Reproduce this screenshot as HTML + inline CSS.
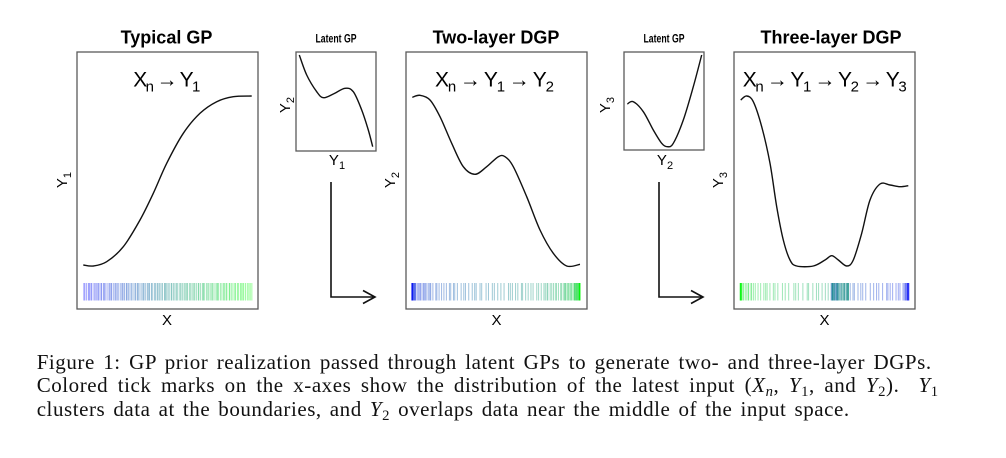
<!DOCTYPE html>
<html><head><meta charset="utf-8">
<style>
html,body{margin:0;padding:0;background:#fff;}
#wrap{position:relative;width:1006px;height:458px;overflow:hidden;background:#fff;}
svg{position:absolute;left:0;top:0;}
.cap{position:absolute;left:36.7px;font-family:"Liberation Serif",serif;font-size:21px;letter-spacing:0.55px;line-height:20px;white-space:nowrap;text-align:justify;text-align-last:justify;color:#111;}
.sb{font-size:70%;position:relative;top:4px;}
</style></head>
<body><div id="wrap">
<svg id="fig" width="1006" height="340" viewBox="0 0 1006 340" xmlns="http://www.w3.org/2000/svg" font-family="Liberation Sans, DejaVu Sans, sans-serif">
  <!-- titles -->
  <text x="166.5" y="43.5" font-size="18" font-weight="bold" text-anchor="middle">Typical GP</text>
  <text x="336" y="42.5" font-size="11.5" font-weight="bold" text-anchor="middle" textLength="41" lengthAdjust="spacingAndGlyphs">Latent GP</text>
  <text x="496" y="43.5" font-size="18" font-weight="bold" text-anchor="middle">Two-layer DGP</text>
  <text x="664" y="42.5" font-size="11.5" font-weight="bold" text-anchor="middle" textLength="41" lengthAdjust="spacingAndGlyphs">Latent GP</text>
  <text x="831" y="43.5" font-size="18" font-weight="bold" text-anchor="middle">Three-layer DGP</text>

  <!-- boxes -->
  <g fill="none" stroke="#5a5a5a" stroke-width="1.3">
    <rect x="77" y="52" width="181" height="257"/>
    <rect x="296" y="52" width="80" height="99"/>
    <rect x="406" y="52" width="181" height="257"/>
    <rect x="624" y="52" width="80" height="98"/>
    <rect x="734" y="52" width="181" height="257"/>
  </g>

  <!-- formulas -->
  <text x="133.3" y="86.5" font-size="21" textLength="67" lengthAdjust="spacing">X<tspan font-size="15" dy="5">n</tspan><tspan dy="-5"> → Y</tspan><tspan font-size="15" dy="5">1</tspan></text>
  <text x="435" y="86.5" font-size="21" textLength="119" lengthAdjust="spacing">X<tspan font-size="15" dy="5">n</tspan><tspan dy="-5"> → Y</tspan><tspan font-size="15" dy="5">1</tspan><tspan dy="-5"> → Y</tspan><tspan font-size="15" dy="5">2</tspan></text>
  <text x="742.7" y="86.5" font-size="21" textLength="164" lengthAdjust="spacing">X<tspan font-size="15" dy="5">n</tspan><tspan dy="-5"> → Y</tspan><tspan font-size="15" dy="5">1</tspan><tspan dy="-5"> → Y</tspan><tspan font-size="15" dy="5">2</tspan><tspan dy="-5"> → Y</tspan><tspan font-size="15" dy="5">3</tspan></text>

  <!-- y labels (rotated) -->
  <text transform="translate(67,180) rotate(-90)" font-size="15" text-anchor="middle">Y<tspan font-size="11" dy="4">1</tspan></text>
  <text transform="translate(395,180) rotate(-90)" font-size="15" text-anchor="middle">Y<tspan font-size="11" dy="4">2</tspan></text>
  <text transform="translate(723,180) rotate(-90)" font-size="15" text-anchor="middle">Y<tspan font-size="11" dy="4">3</tspan></text>
  <text transform="translate(290,105) rotate(-90)" font-size="15" text-anchor="middle">Y<tspan font-size="11" dy="4">2</tspan></text>
  <text transform="translate(610,105) rotate(-90)" font-size="15" text-anchor="middle">Y<tspan font-size="11" dy="4">3</tspan></text>

  <!-- x labels -->
  <text x="167" y="325" font-size="15" text-anchor="middle">X</text>
  <text x="496.5" y="325" font-size="15" text-anchor="middle">X</text>
  <text x="824.5" y="325" font-size="15" text-anchor="middle">X</text>
  <text x="337" y="165" font-size="15" text-anchor="middle">Y<tspan font-size="11" dy="4">1</tspan></text>
  <text x="665" y="165" font-size="15" text-anchor="middle">Y<tspan font-size="11" dy="4">2</tspan></text>

  <!-- arrows -->
  <g fill="none" stroke="#111" stroke-width="1.6">
    <polyline points="331,182 331,297 375,297"/>
    <polyline points="363,290.5 375,297 363,303.5"/>
    <polyline points="659,182 659,297 703,297"/>
    <polyline points="691,290.5 703,297 691,303.5"/>
  </g>

  <g id="curves" fill="none" stroke="#111" stroke-width="1.4"></g>
  <g id="ticks" stroke-width="1"></g>
</svg>

<div class="cap" style="top:351.9px;width:895px;">Figure 1: GP prior realization passed through latent GPs to generate two- and three-layer DGPs.</div>
<div class="cap" style="top:375.2px;width:902px;">Colored tick marks on the x-axes show the distribution of the latest input (<i>X</i><span class="sb"><i>n</i></span>, <i>Y</i><span class="sb">1</span>, and <i>Y</i><span class="sb">2</span>). &nbsp;<i>Y</i><span class="sb">1</span></div>
<div class="cap" style="top:398.6px;width:813px;">clusters data at the boundaries, and <i>Y</i><span class="sb">2</span> overlaps data near the middle of the input space.</div>
</div>

<script>
(function(){
var NS="http://www.w3.org/2000/svg";
var c1=[[83.3,265],[93.3,266],[106.7,261.7],[123.3,246.7],[140,220],[153.3,193.3],[166.7,163.3],[183.3,133.3],[200,113.3],[216.7,101.7],[233.3,96.7],[251.7,96]];
var l1=[[299.3,55],[306.7,75],[316.7,91.7],[323.3,97.7],[333.3,94],[345,88.3],[353.3,91.7],[361.7,110],[368.3,130],[372.7,146.7]];
var c2=[[412.3,97.3],[420,95.3],[430,100],[440,116.7],[451.7,143.3],[463.3,166.7],[475,174.3],[486.7,166.7],[498.3,156.7],[505,156.7],[513.3,166.7],[526.7,196.7],[540,230],[553.3,253.3],[566.7,266],[580,264.3]];
var l2=[[627.3,104],[633.3,101.7],[643.3,111.7],[653.3,130],[661.7,143.3],[667.3,146.7],[673.3,143.3],[683.3,120],[693.3,86.7],[701.7,55]];
var c3=[[740.7,100],[746.7,96],[753.3,101.7],[761.7,126.7],[770,163.3],[776.7,206.7],[783.3,240],[790,260],[796.7,266],[813.3,266],[825,260],[831.7,255.7],[838.3,260],[846.7,266],[853.3,260],[861.7,233.3],[870,200],[880,184],[890,185],[900,186.7],[908.3,185.7]];
function smooth(p){
  var d="M"+p[0][0]+","+p[0][1];
  for(var i=0;i<p.length-1;i++){
    var p0=p[i-1]||p[i],a=p[i],b=p[i+1],p3=p[i+2]||b;
    var x1=a[0]+(b[0]-p0[0])/6,y1=a[1]+(b[1]-p0[1])/6;
    var x2=b[0]-(p3[0]-a[0])/6,y2=b[1]-(p3[1]-a[1])/6;
    d+=" C"+x1.toFixed(2)+","+y1.toFixed(2)+" "+x2.toFixed(2)+","+y2.toFixed(2)+" "+b[0]+","+b[1];
  }
  return d;
}
var cg=document.getElementById("curves");
[c1,l1,c2,l2,c3].forEach(function(p){
  var e=document.createElementNS(NS,"path");e.setAttribute("d",smooth(p));cg.appendChild(e);
});
function interp(p,x){
  if(x<=p[0][0])return p[0][1];
  for(var i=0;i<p.length-1;i++){
    if(x<=p[i+1][0]){var t=(x-p[i][0])/(p[i+1][0]-p[i][0]);return p[i][1]+t*(p[i+1][1]-p[i][1]);}
  }
  return p[p.length-1][1];
}
var s=12345;
function rnd(){s=(s*1103515245+12345)%2147483648;return s/2147483648;}
var tg=document.getElementById("ticks");
function tick(x,t){
  var e=document.createElementNS(NS,"line");
  e.setAttribute("x1",x.toFixed(2));e.setAttribute("x2",x.toFixed(2));
  e.setAttribute("y1","283");e.setAttribute("y2","300.5");
  var g=Math.round(255*t),b=Math.round(255*(1-t));
  e.setAttribute("stroke","rgb(0,"+g+","+b+")");
  e.setAttribute("stroke-opacity","0.38");
  tg.appendChild(e);
}
var n=120;
for(var i=0;i<n;i++){
  var xi=(i+0.5+(rnd()-0.5)*0.8)/n;
  if(xi<0)xi=0;if(xi>1)xi=1;
  tick(83+xi*169,xi);
  var y1=interp(c1,83.3+xi*(251.7-83.3));
  var v1=(266-y1)/(266-96);
  tick(411.7+v1*168.3,xi);
  var y2=interp(c2,412.3+xi*(580-412.3));
  var v2=(266-y2)/(266-95.3);
  tick(740+v2*169,xi);
}
})();
</script>
</body></html>
